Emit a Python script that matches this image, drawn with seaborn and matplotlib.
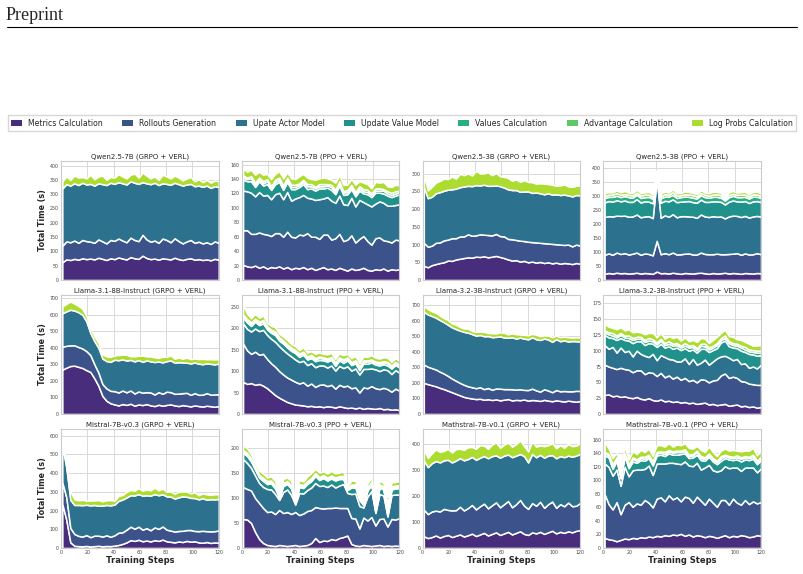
import matplotlib.pyplot as plt
import numpy as np
import seaborn as sns
from matplotlib.lines import Line2D
from matplotlib.patches import Patch
from matplotlib.ticker import MultipleLocator

sns.set_theme(style="whitegrid")
plt.rcParams["font.family"] = ["DejaVu Sans"]

# Pasos de entrenamiento (40 puntos)
steps = np.linspace(1, 120, 40)

component_names = [
    "Metrics Calculation",
    "Rollouts Generation",
    "Upate Actor Model",
    "Update Value Model",
    "Values Calculation",
    "Advantage Calculation",
    "Log Probs Calculation",
]

# Qwen2.5-7B (GRPO + VERL)
qwen7b_grpo_metrics = [62, 72, 70, 74, 71, 76, 73, 75, 72, 78, 74, 70, 76, 73, 79, 75, 72, 80, 76, 74,
                       85, 77, 73, 75, 71, 76, 74, 72, 78, 73, 70, 74, 76, 71, 73, 70, 72, 69, 74, 71]
qwen7b_grpo_rollouts = [58, 63, 62, 64, 59, 64, 63, 59, 58, 64, 61, 58, 64, 64, 66, 63, 60, 68, 64, 62,
                        73, 65, 61, 63, 59, 69, 66, 60, 68, 63, 58, 61, 64, 59, 61, 58, 60, 57, 61, 59]
qwen7b_grpo_actor = [200, 200, 198, 200, 202, 200, 198, 202, 200, 196, 200, 204, 200, 199, 197, 200, 202, 197, 200, 200,
                     184, 196, 201, 202, 202, 193, 196, 201, 194, 199, 202, 199, 196, 198, 196, 198, 198, 196, 193, 195]
qwen7b_grpo_logp = [25, 27, 20, 27, 26, 20, 21, 32, 22, 24, 30, 18, 20, 22, 28, 24, 21, 23, 32, 22,
                    33, 27, 20, 22, 18, 30, 26, 22, 25, 23, 18, 21, 24, 17, 22, 16, 20, 18, 20, 20]

# Qwen2.5-7B (PPO + VERL)
qwen7b_ppo_metrics = [21, 19, 18, 20, 17, 19, 16, 18, 17, 19, 16, 18, 15, 17, 16, 18, 15, 17, 14, 16,
                      18, 15, 16, 14, 17, 15, 13, 16, 14, 15, 17, 14, 13, 15, 14, 16, 13, 15, 14, 15]
qwen7b_ppo_rollouts = [48, 50, 46, 44, 49, 45, 47, 43, 48, 46, 44, 49, 45, 42, 47, 44, 50, 43, 46, 41,
                       45, 48, 40, 44, 47, 39, 43, 46, 38, 42, 44, 40, 36, 43, 45, 39, 41, 37, 42, 40]
qwen7b_ppo_actor = [55, 54, 57, 52, 56, 53, 55, 51, 54, 56, 52, 55, 50, 54, 52, 56, 49, 53, 51, 55,
                    50, 52, 54, 49, 53, 51, 48, 52, 50, 54, 47, 51, 53, 48, 50, 52, 49, 51, 48, 50]
qwen7b_ppo_value = [15, 14, 16, 13, 15, 14, 15, 13, 14, 15, 13, 14, 16, 13, 14, 15, 12, 14, 13, 15,
                    14, 13, 15, 12, 14, 13, 15, 12, 14, 13, 12, 14, 13, 15, 12, 13, 14, 12, 13, 14]
qwen7b_ppo_values = [3, 3, 4, 3, 3, 3, 4, 3, 3, 3, 3, 4, 3, 3, 3, 3, 4, 3, 3, 3,
                     3, 3, 4, 3, 3, 3, 3, 3, 4, 3, 3, 3, 3, 3, 3, 4, 3, 3, 3, 3]
qwen7b_ppo_advantage = [3, 2, 3, 3, 2, 3, 3, 2, 3, 3, 3, 2, 3, 3, 2, 3, 3, 3, 2, 3,
                        3, 2, 3, 3, 3, 2, 3, 3, 2, 3, 3, 3, 2, 3, 3, 2, 3, 3, 3, 2]
qwen7b_ppo_logp = [10, 8, 9, 11, 8, 9, 7, 10, 8, 9, 10, 7, 9, 8, 10, 8, 9, 7, 10, 8,
                   9, 8, 7, 10, 8, 9, 7, 8, 10, 7, 9, 8, 7, 9, 8, 10, 7, 8, 9, 7]

# Qwen2.5-3B (GRPO + VERL)
qwen3b_grpo_metrics = [40, 36, 42, 45, 48, 50, 55, 54, 58, 60, 62, 64, 63, 66, 65, 67, 64, 66, 68, 65,
                       62, 58, 55, 56, 52, 54, 50, 52, 49, 51, 48, 50, 47, 49, 46, 48, 47, 45, 48, 46]
qwen3b_grpo_rollouts = [65, 58, 55, 60, 58, 62, 59, 64, 60, 63, 61, 65, 62, 60, 64, 61, 63, 60, 62, 59,
                        61, 58, 60, 57, 59, 56, 58, 55, 57, 54, 56, 53, 55, 52, 54, 51, 53, 50, 52, 51]
qwen3b_grpo_actor = [157, 137, 138, 140, 142, 140, 141, 138, 140, 139, 141, 137, 140, 142, 138, 141, 139, 140, 137, 141,
                     138, 140, 139, 141, 138, 140, 142, 139, 141, 140, 138, 142, 139, 141, 140, 142, 139, 141, 140, 142]
qwen3b_grpo_logp = [35, 22, 28, 30, 32, 34, 30, 36, 28, 38, 32, 35, 30, 40, 34, 32, 38, 30, 35, 28,
                    30, 32, 26, 30, 28, 32, 27, 30, 25, 28, 30, 26, 28, 24, 27, 29, 25, 27, 26, 28]

# Qwen2.5-3B (PPO + VERL)
qwen3b_ppo_metrics = [22, 25, 23, 26, 24, 25, 23, 24, 26, 23, 25, 24, 22, 30, 24, 25, 23, 26, 24, 22,
                      25, 24, 23, 25, 26, 24, 22, 25, 23, 24, 26, 23, 25, 24, 22, 25, 24, 23, 25, 24]
qwen3b_ppo_rollouts = [68, 70, 67, 72, 69, 71, 68, 70, 72, 67, 70, 69, 66, 110, 68, 71, 69, 72, 67, 70,
                       69, 71, 68, 66, 72, 69, 70, 67, 71, 68, 66, 70, 69, 72, 68, 70, 67, 69, 71, 68]
qwen3b_ppo_actor = [135, 133, 137, 132, 136, 134, 135, 133, 136, 134, 132, 135, 133, 220, 130, 135, 134, 137, 133, 136,
                    134, 132, 135, 131, 136, 134, 133, 136, 132, 135, 128, 134, 136, 133, 135, 134, 132, 135, 133, 134]
qwen3b_ppo_value = [52, 54, 53, 55, 52, 54, 53, 52, 55, 53, 54, 52, 53, 20, 54, 52, 55, 53, 54, 52,
                    53, 55, 52, 54, 53, 52, 54, 53, 55, 52, 50, 53, 54, 52, 55, 53, 52, 54, 53, 52]
qwen3b_ppo_values = [16, 15, 17, 16, 15, 16, 17, 15, 16, 16, 15, 17, 16, 5, 16, 15, 17, 16, 15, 16,
                     17, 15, 16, 15, 16, 17, 15, 16, 16, 15, 14, 16, 17, 15, 16, 15, 16, 17, 15, 16]
qwen3b_ppo_advantage = [8, 7, 8, 9, 8, 7, 8, 8, 7, 8, 9, 8, 7, 3, 8, 8, 7, 9, 8, 7,
                        8, 8, 9, 7, 8, 8, 7, 8, 9, 8, 6, 8, 7, 8, 9, 8, 7, 8, 8, 7]
qwen3b_ppo_logp = [10, 9, 8, 10, 9, 11, 8, 9, 10, 9, 8, 10, 9, 5, 10, 9, 8, 10, 9, 8,
                   10, 9, 8, 9, 10, 8, 9, 10, 9, 8, 7, 9, 10, 8, 9, 10, 8, 9, 10, 8]

# Llama-3.1-8B-Instruct (GRPO + VERL)
llama8b_grpo_metrics = [268, 280, 290, 292, 285, 278, 265, 254, 215, 170, 109, 80, 65, 58, 52, 60, 55, 62, 50, 58,
                        54, 60, 52, 48, 56, 50, 55, 58, 52, 48, 54, 50, 46, 52, 48, 45, 50, 47, 44, 48]
llama8b_grpo_rollouts = [139, 132, 125, 123, 120, 118, 115, 102, 85, 80, 72, 75, 75, 80, 78, 82, 76, 80, 74, 78,
                         75, 72, 78, 70, 76, 72, 80, 74, 70, 75, 72, 78, 70, 74, 68, 72, 76, 70, 74, 72]
llama8b_grpo_actor = [202, 208, 215, 210, 210, 204, 180, 133, 140, 150, 154, 165, 175, 190, 195, 188, 192, 185, 194, 190,
                      186, 192, 188, 196, 185, 190, 184, 192, 188, 190, 186, 182, 190, 185, 188, 184, 180, 186, 182, 185]
llama8b_grpo_logp = [41, 45, 50, 42, 38, 35, 32, 30, 28, 30, 26, 28, 30, 25, 32, 28, 35, 22, 30, 26,
                     38, 24, 30, 28, 22, 34, 26, 30, 24, 28, 22, 30, 26, 24, 28, 32, 25, 28, 30, 26]

# Llama-3.1-8B-Instruct (PPO + VERL)
llama8b_ppo_metrics = [75, 70, 72, 68, 70, 66, 60, 52, 44, 38, 33, 28, 25, 22, 21, 20, 18, 19, 17, 18,
                       16, 18, 17, 15, 18, 16, 14, 15, 13, 15, 12, 14, 13, 12, 14, 11, 12, 10, 11, 9]
llama8b_ppo_rollouts = [89, 78, 68, 77, 68, 74, 68, 66, 66, 62, 59, 57, 55, 53, 50, 54, 48, 52, 46, 50,
                        53, 47, 51, 44, 50, 48, 52, 45, 49, 35, 50, 46, 52, 48, 44, 50, 46, 42, 48, 45]
llama8b_ppo_actor = [47, 50, 52, 54, 55, 56, 56, 57, 58, 58, 57, 56, 54, 52, 50, 50, 48, 47, 46, 45,
                     44, 43, 45, 42, 44, 43, 45, 41, 44, 42, 43, 45, 41, 44, 42, 43, 44, 41, 43, 42]
llama8b_ppo_value = [14, 15, 13, 16, 14, 15, 13, 14, 16, 13, 15, 14, 13, 15, 12, 14, 13, 12, 14, 13,
                     12, 14, 13, 11, 13, 12, 14, 13, 12, 10, 13, 12, 14, 11, 13, 12, 11, 13, 12, 12]
llama8b_ppo_values = [4, 4, 5, 4, 4, 5, 4, 4, 4, 5, 4, 4, 4, 4, 5, 4, 4, 4, 4, 5,
                      4, 4, 4, 4, 4, 5, 4, 4, 4, 4, 4, 5, 4, 4, 4, 4, 5, 4, 4, 4]
llama8b_ppo_advantage = [3, 4, 3, 3, 4, 3, 3, 3, 4, 3, 3, 3, 4, 3, 3, 3, 3, 4, 3, 3,
                         3, 3, 3, 4, 3, 3, 3, 3, 3, 4, 3, 3, 3, 3, 4, 3, 3, 3, 3, 3]
llama8b_ppo_logp = [23, 12, 10, 11, 9, 10, 8, 9, 10, 8, 9, 10, 8, 9, 8, 10, 9, 8, 10, 9,
                    8, 10, 9, 8, 9, 10, 8, 9, 10, 8, 9, 8, 10, 9, 8, 9, 10, 8, 9, 8]

# Llama-3.2-3B-Instruct (GRPO + VERL)
llama3b_grpo_metrics = [200, 192, 185, 178, 168, 160, 150, 140, 130, 120, 110, 104, 100, 96, 98, 92, 95, 90, 94, 88,
                        92, 96, 87, 91, 89, 93, 86, 90, 88, 84, 91, 86, 82, 88, 84, 80, 86, 82, 79, 84]
llama3b_grpo_rollouts = [118, 112, 110, 108, 104, 100, 95, 88, 84, 80, 78, 74, 72, 70, 74, 68, 72, 66, 70, 75,
                         68, 64, 72, 66, 70, 62, 68, 73, 64, 60, 68, 65, 58, 66, 62, 68, 60, 64, 70, 64]
llama3b_grpo_actor = [339, 336, 335, 333, 332, 330, 329, 329, 332, 336, 340, 345, 342, 338, 336, 340, 334, 338, 332, 336,
                      332, 330, 334, 328, 332, 330, 326, 330, 329, 332, 326, 328, 324, 327, 322, 325, 320, 323, 319, 318]
llama3b_grpo_logp = [38, 34, 30, 32, 28, 26, 30, 25, 28, 24, 22, 26, 20, 24, 22, 28, 20, 25, 22, 26,
                     30, 22, 25, 28, 20, 24, 26, 22, 28, 24, 20, 25, 30, 22, 26, 24, 28, 22, 25, 27]

# Llama-3.2-3B-Instruct (PPO + VERL)
llama3b_ppo_metrics = [30, 31, 28, 29, 27, 28, 26, 25, 27, 24, 23, 25, 22, 21, 23, 20, 21, 19, 20, 18,
                       19, 17, 18, 16, 17, 18, 15, 16, 14, 15, 16, 13, 14, 15, 12, 13, 11, 12, 10, 11]
llama3b_ppo_rollouts = [48, 44, 45, 42, 46, 43, 44, 41, 42, 45, 40, 41, 43, 39, 42, 38, 40, 37, 39, 36,
                        38, 35, 36, 34, 38, 36, 35, 37, 40, 46, 48, 44, 45, 42, 40, 38, 37, 35, 36, 35]
llama3b_ppo_actor = [31, 28, 33, 26, 32, 27, 30, 25, 31, 26, 29, 24, 30, 25, 28, 32, 26, 30, 24, 29,
                     31, 27, 33, 28, 26, 32, 28, 30, 34, 30, 28, 32, 26, 30, 27, 29, 25, 28, 26, 32]
llama3b_ppo_value = [16, 18, 14, 20, 15, 19, 16, 21, 15, 20, 17, 22, 16, 21, 18, 15, 20, 17, 22, 18,
                     16, 21, 15, 19, 22, 17, 20, 18, 16, 22, 24, 18, 20, 17, 21, 18, 22, 19, 20, 15]
llama3b_ppo_values = [4, 5, 4, 4, 5, 4, 4, 5, 4, 4, 5, 4, 4, 4, 5, 4, 4, 5, 4, 4,
                      4, 5, 4, 4, 5, 4, 4, 4, 5, 4, 4, 5, 4, 4, 5, 4, 4, 4, 5, 4]
llama3b_ppo_advantage = [3, 3, 4, 3, 3, 3, 4, 3, 3, 3, 3, 4, 3, 3, 3, 3, 4, 3, 3, 3,
                         4, 3, 3, 3, 3, 4, 3, 3, 3, 3, 4, 3, 3, 3, 3, 4, 3, 3, 3, 3]
llama3b_ppo_logp = [10, 9, 8, 10, 9, 8, 10, 9, 8, 7, 9, 8, 10, 8, 9, 7, 8, 9, 10, 8,
                    9, 7, 8, 10, 9, 8, 7, 9, 10, 8, 9, 8, 10, 7, 9, 8, 9, 7, 8, 9]

# Mistral-7B-v0.3 (GRPO + VERL)
mistral_grpo_metrics = [235, 150, 30, 12, 10, 9, 11, 8, 10, 12, 9, 11, 10, 13, 16, 22, 30, 42, 38, 44,
                        36, 40, 35, 42, 38, 45, 36, 33, 30, 35, 32, 38, 34, 36, 30, 28, 32, 27, 30, 28]
mistral_grpo_rollouts = [116, 120, 77, 63, 55, 52, 58, 50, 56, 54, 52, 57, 50, 55, 66, 62, 68, 72, 65, 70,
                         62, 66, 60, 68, 64, 70, 62, 60, 58, 56, 60, 58, 62, 55, 60, 64, 58, 62, 60, 66]
mistral_grpo_actor = [196, 160, 150, 155, 165, 168, 162, 170, 164, 160, 166, 162, 168, 164, 170, 175, 172, 168, 178, 174,
                      182, 176, 185, 178, 180, 172, 178, 182, 176, 180, 184, 178, 172, 176, 170, 174, 168, 172, 170, 168]
mistral_grpo_logp = [40, 15, 45, 30, 25, 28, 22, 26, 24, 30, 22, 25, 28, 20, 26, 24, 30, 28, 25, 32,
                     26, 30, 28, 34, 26, 30, 24, 28, 25, 30, 26, 28, 24, 30, 22, 26, 28, 24, 27, 25]

# Mistral-7B-v0.3 (PPO + VERL)
mistral_ppo_metrics = [58, 57, 50, 32, 18, 10, 6, 5, 4, 6, 5, 4, 5, 6, 4, 5, 6, 10, 20, 12,
                       15, 14, 18, 16, 20, 22, 25, 8, 5, 4, 6, 5, 4, 5, 6, 4, 5, 4, 5, 4]
mistral_ppo_rollouts = [64, 61, 65, 68, 72, 70, 66, 68, 64, 70, 65, 68, 63, 66, 62, 64, 68, 66, 62, 68,
                        64, 66, 62, 65, 60, 58, 55, 52, 54, 35, 55, 50, 58, 40, 52, 55, 38, 54, 52, 56]
mistral_ppo_actor = [56, 52, 45, 45, 40, 42, 46, 44, 40, 20, 42, 45, 38, 15, 44, 40, 42, 45, 48, 44,
                     46, 42, 47, 40, 45, 48, 30, 48, 50, 45, 20, 48, 52, 25, 50, 46, 20, 48, 50, 47]
mistral_ppo_value = [12, 14, 13, 12, 11, 12, 10, 12, 11, 5, 12, 11, 13, 4, 12, 11, 12, 13, 14, 12,
                     15, 13, 12, 14, 13, 10, 6, 13, 12, 12, 5, 12, 12, 4, 13, 12, 5, 11, 12, 13]
mistral_ppo_values = [3, 3, 3, 3, 3, 3, 3, 3, 3, 2, 3, 3, 3, 2, 3, 3, 3, 3, 3, 3,
                      3, 3, 3, 3, 3, 3, 2, 3, 3, 3, 2, 3, 3, 2, 3, 3, 2, 3, 3, 3]
mistral_ppo_advantage = [3, 3, 3, 3, 3, 3, 3, 3, 3, 2, 3, 3, 3, 2, 3, 3, 3, 3, 3, 3,
                         3, 3, 3, 3, 3, 3, 2, 3, 3, 3, 2, 3, 3, 2, 3, 3, 2, 3, 3, 3]
mistral_ppo_logp = [10, 9, 8, 7, 8, 9, 7, 8, 9, 3, 8, 7, 9, 3, 8, 7, 9, 10, 8, 9,
                    7, 8, 9, 8, 7, 9, 3, 8, 7, 8, 3, 8, 9, 3, 8, 7, 3, 8, 7, 8]

# Mathstral-7B-v0.1 (GRPO + VERL)
mathstral_grpo_metrics = [45, 38, 42, 48, 40, 46, 50, 42, 47, 52, 44, 49, 55, 46, 52, 58, 48, 54, 60, 50,
                          56, 62, 52, 58, 64, 54, 50, 60, 56, 62, 54, 60, 66, 56, 62, 58, 64, 60, 66, 68]
mathstral_grpo_rollouts = [102, 92, 98, 95, 100, 104, 96, 102, 98, 106, 100, 104, 110, 102, 108, 112, 104, 110, 115, 106,
                           112, 118, 104, 110, 120, 108, 100, 112, 106, 115, 100, 108, 112, 98, 106, 102, 110, 100, 96, 105]
mathstral_grpo_actor = [188, 180, 185, 190, 188, 186, 192, 184, 190, 186, 192, 188, 184, 190, 186, 182, 192, 188, 180, 190,
                        186, 178, 192, 186, 176, 190, 178, 188, 186, 180, 192, 186, 178, 190, 184, 188, 180, 190, 192, 188]
mathstral_grpo_logp = [42, 35, 38, 45, 40, 36, 42, 38, 44, 36, 40, 45, 38, 42, 48, 40, 36, 44, 50, 38,
                       42, 46, 40, 44, 52, 38, 42, 48, 40, 36, 44, 40, 46, 38, 42, 36, 44, 40, 38, 42]

# Mathstral-7B-v0.1 (PPO + VERL)
mathstral_ppo_metrics = [15, 13, 12, 10, 12, 14, 13, 15, 14, 16, 15, 17, 16, 18, 17, 19, 18, 20, 19, 21,
                         18, 20, 17, 19, 18, 16, 18, 17, 15, 17, 19, 16, 18, 17, 19, 18, 16, 17, 19, 18]
mathstral_ppo_rollouts = [65, 52, 45, 58, 38, 50, 55, 46, 52, 48, 56, 50, 44, 55, 58, 50, 60, 52, 56, 48,
                          58, 54, 50, 57, 52, 48, 55, 50, 46, 54, 52, 48, 55, 50, 45, 53, 49, 52, 47, 50]
mathstral_ppo_actor = [45, 55, 50, 48, 42, 56, 38, 54, 50, 52, 46, 55, 48, 52, 50, 56, 48, 54, 50, 55,
                       52, 48, 54, 50, 46, 55, 50, 48, 52, 44, 50, 54, 46, 52, 50, 48, 54, 50, 46, 50]
mathstral_ppo_value = [12, 14, 10, 13, 11, 15, 12, 13, 10, 14, 12, 11, 14, 12, 13, 11, 14, 12, 13, 15,
                       12, 11, 13, 12, 14, 10, 12, 13, 11, 14, 12, 13, 11, 12, 14, 12, 11, 13, 12, 12]
mathstral_ppo_values = [3, 3, 4, 3, 3, 3, 3, 4, 3, 3, 3, 3, 4, 3, 3, 3, 3, 3, 4, 3,
                        3, 3, 3, 4, 3, 3, 3, 3, 3, 4, 3, 3, 3, 3, 4, 3, 3, 3, 3, 3]
mathstral_ppo_advantage = [2, 2, 3, 2, 2, 2, 3, 2, 2, 2, 3, 2, 2, 2, 2, 3, 2, 2, 2, 2,
                           3, 2, 2, 2, 3, 2, 2, 2, 2, 3, 2, 2, 2, 3, 2, 2, 2, 3, 2, 2]
mathstral_ppo_logp = [15, 8, 9, 7, 8, 10, 7, 9, 8, 10, 7, 9, 8, 10, 9, 8, 10, 7, 9, 8,
                      9, 10, 8, 7, 9, 8, 10, 9, 7, 8, 9, 8, 10, 7, 9, 8, 9, 10, 8, 9]

# Paneles: (título, series en orden de apilado, índices de color, paso del eje y, tope del eje y)
grpo_colors = [0, 1, 2, 6]
ppo_colors = [0, 1, 2, 3, 4, 5, 6]
panels = [
    ("Qwen2.5-7B (GRPO + VERL)",
     [qwen7b_grpo_metrics, qwen7b_grpo_rollouts, qwen7b_grpo_actor, qwen7b_grpo_logp], grpo_colors, 50, 416),
    ("Qwen2.5-7B (PPO + VERL)",
     [qwen7b_ppo_metrics, qwen7b_ppo_rollouts, qwen7b_ppo_actor, qwen7b_ppo_value,
      qwen7b_ppo_values, qwen7b_ppo_advantage, qwen7b_ppo_logp], ppo_colors, 20, 165),
    ("Qwen2.5-3B (GRPO + VERL)",
     [qwen3b_grpo_metrics, qwen3b_grpo_rollouts, qwen3b_grpo_actor, qwen3b_grpo_logp], grpo_colors, 50, 336),
    ("Qwen2.5-3B (PPO + VERL)",
     [qwen3b_ppo_metrics, qwen3b_ppo_rollouts, qwen3b_ppo_actor, qwen3b_ppo_value,
      qwen3b_ppo_values, qwen3b_ppo_advantage, qwen3b_ppo_logp], ppo_colors, 50, 425),
    ("Llama-3.1-8B-Instruct (GRPO + VERL)",
     [llama8b_grpo_metrics, llama8b_grpo_rollouts, llama8b_grpo_actor, llama8b_grpo_logp], grpo_colors, 100, 719),
    ("Llama-3.1-8B-Instruct (PPO + VERL)",
     [llama8b_ppo_metrics, llama8b_ppo_rollouts, llama8b_ppo_actor, llama8b_ppo_value,
      llama8b_ppo_values, llama8b_ppo_advantage, llama8b_ppo_logp], ppo_colors, 50, 277),
    ("Llama-3.2-3B-Instruct (GRPO + VERL)",
     [llama3b_grpo_metrics, llama3b_grpo_rollouts, llama3b_grpo_actor, llama3b_grpo_logp], grpo_colors, 100, 765),
    ("Llama-3.2-3B-Instruct (PPO + VERL)",
     [llama3b_ppo_metrics, llama3b_ppo_rollouts, llama3b_ppo_actor, llama3b_ppo_value,
      llama3b_ppo_values, llama3b_ppo_advantage, llama3b_ppo_logp], ppo_colors, 25, 188),
    ("Mistral-7B-v0.3 (GRPO + VERL)",
     [mistral_grpo_metrics, mistral_grpo_rollouts, mistral_grpo_actor, mistral_grpo_logp], grpo_colors, 100, 636),
    ("Mistral-7B-v0.3 (PPO + VERL)",
     [mistral_ppo_metrics, mistral_ppo_rollouts, mistral_ppo_actor, mistral_ppo_value,
      mistral_ppo_values, mistral_ppo_advantage, mistral_ppo_logp], ppo_colors, 50, 238),
    ("Mathstral-7B-v0.1 (GRPO + VERL)",
     [mathstral_grpo_metrics, mathstral_grpo_rollouts, mathstral_grpo_actor, mathstral_grpo_logp], grpo_colors, 100, 456),
    ("Mathstral-7B-v0.1 (PPO + VERL)",
     [mathstral_ppo_metrics, mathstral_ppo_rollouts, mathstral_ppo_actor, mathstral_ppo_value,
      mathstral_ppo_values, mathstral_ppo_advantage, mathstral_ppo_logp], ppo_colors, 20, 176),
]

palette = sns.color_palette("viridis", 7)

fig, axes = plt.subplots(3, 4, figsize=(8.04, 5.74), dpi=100, sharex=True)
fig.subplots_adjust(left=0.0759, right=0.9465, top=0.7195, bottom=0.0453, wspace=0.146, hspace=0.126)

for ax, (title, series, color_idx, ystep, ytop) in zip(axes.flat, panels):
    ax.stackplot(steps, *series, colors=[palette[i] for i in color_idx],
                 edgecolor="white", linewidth=1.1)
    ax.set_title(title, fontsize=5, pad=2)
    ax.set_xlim(0, 120)
    ax.set_ylim(0, ytop)
    ax.xaxis.set_major_locator(MultipleLocator(20))
    ax.yaxis.set_major_locator(MultipleLocator(ystep))
    ax.tick_params(labelsize=3.4, colors="#444444", pad=1.5, length=0)
    ax.grid(color="#d9d9d9", linewidth=0.7)
    for spine in ax.spines.values():
        spine.set_color("#cccccc")
        spine.set_linewidth(0.8)

for ax in axes[:, 0]:
    ax.set_ylabel("Total Time (s)", fontsize=5.8, fontweight="bold", labelpad=2)
for ax in axes[-1, :]:
    ax.set_xlabel("Training Steps", fontsize=6, fontweight="bold", labelpad=1)

handles = [Patch(facecolor=c, edgecolor="none") for c in palette]
fig.legend(handles, component_names, loc="center", ncol=7, mode="expand",
           bbox_to_anchor=(8 / 804, 1 - 131 / 574, 788 / 804, 16 / 574),
           fontsize=5.6, frameon=True, handlelength=1.4, borderaxespad=0,
           edgecolor="#cccccc", fancybox=False)

# Cabecera "Preprint" con línea horizontal
fig.text(6 / 804, 1 - 15 / 574, "Preprint", family="Liberation Serif", fontsize=13, va="center")
fig.add_artist(Line2D([7 / 804, 797 / 804], [1 - 27 / 574, 1 - 27 / 574],
                      color="black", linewidth=0.8, transform=fig.transFigure))

fig.savefig("out.png", dpi=100)
